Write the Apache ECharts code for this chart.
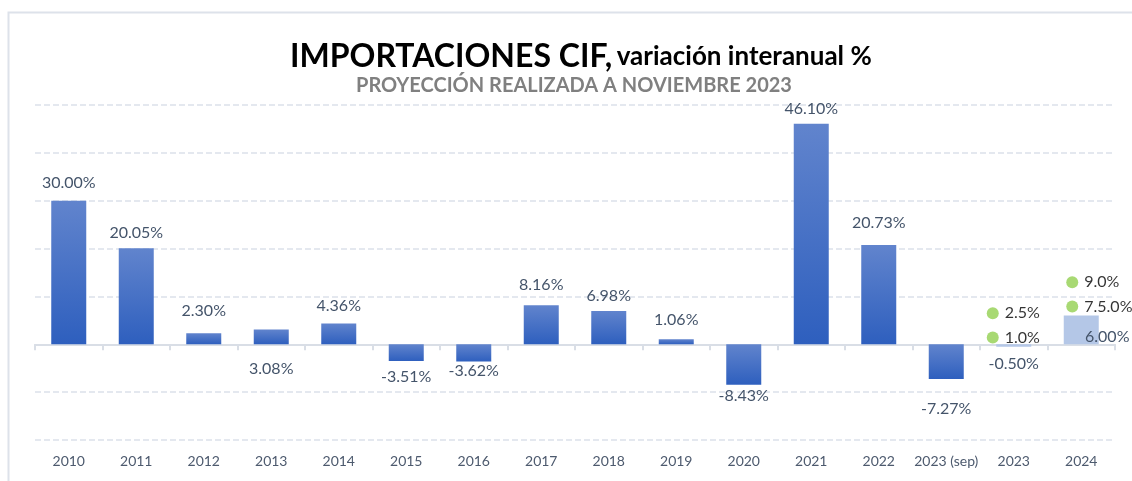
<!DOCTYPE html>
<html>
<head>
<meta charset="utf-8">
<script src="https://cdn.jsdelivr.net/npm/echarts@6/dist/echarts.min.js"></script>
<style>
  html, body { margin: 0; padding: 0; background: #fff; }
  #chart { width: 1132px; height: 481px; }
</style>
</head>
<body>
<div id="chart"></div>
<script>
// años / categorías
const years = ['2010', '2011', '2012', '2013', '2014', '2015', '2016', '2017', '2018',
  '2019', '2020', '2021', '2022', '2023 (sep)', '2023', '2024'];
// variación interanual %
const variacion = [30.00, 20.05, 2.30, 3.08, 4.36, -3.51, -3.62, 8.16, 6.98,
  1.06, -8.43, 46.10, 20.73, -7.27, -0.50, 6.00];
// proyecciones (puntos verdes)
const proyBaja = [null, null, null, null, null, null, null, null, null,
  null, null, null, null, null, 1.0, 7.5];
const proyAlta = [null, null, null, null, null, null, null, null, null,
  null, null, null, null, null, 2.5, 9.0];
const proyBajaTxt = ['1.0%', '7.5.0%'];
const proyAltaTxt = ['2.5%', '9.0%'];

// separación de etiquetas (px) respecto al extremo de la barra
const labelGap = [18, 15, 22, 25, 18, 16, 9, 20, 15, 19, 11, 15, 22, 30, 17, 0];

const chart = echarts.init(document.getElementById('chart'), null, { renderer: 'canvas' });

const FONT = 'Lato';
const darkBlue = new echarts.graphic.LinearGradient(0, 0, 0, 1, [
  { offset: 0, color: '#6184cd' },
  { offset: 1, color: '#2e5fbe' }
]);
const lightBlue = '#b4c7e7';

const barData = variacion.map(function (v, i) {
  const proy = i >= 14;
  const item = {
    value: v,
    itemStyle: { color: proy ? lightBlue : darkBlue },
    label: {
      position: v >= 0 && i !== 3 ? 'top' : 'bottom',
      distance: labelGap[i] - 8
    }
  };
  if (i === 15) {
    item.label = { position: 'inside', offset: [26, 7] };
  }
  return item;
});

function dotData(arr, txt, dy) {
  let k = 0;
  return arr.map(function (v, i) {
    if (v === null) return null;
    const t = txt[k++];
    return {
      value: v,
      symbolOffset: [i === 14 ? -21 : -9, dy],
      label: { formatter: t }
    };
  });
}

const option = {
  animation: false,
  textStyle: { fontFamily: FONT },
  graphic: [{
    type: 'rect',
    left: 6, top: 10,
    shape: { width: 1200, height: 600 },
    style: { fill: 'none', stroke: '#dde2ea', lineWidth: 2 },
    silent: true
  }],
  title: [{
    left: 285, top: 36,
    text: '{b|IMPORTACIONES CIF,} {n|variación interanual %}',
    textStyle: {
      rich: {
        b: { fontFamily: FONT, fontSize: 32, fontWeight: 'bold', color: '#000' },
        n: { fontFamily: FONT, fontSize: 26, color: '#000' }
      }
    }
  }, {
    left: 351, top: 71,
    text: 'PROYECCIÓN REALIZADA A NOVIEMBRE 2023',
    textStyle: { fontFamily: FONT, fontSize: 20, fontWeight: 'bold', color: '#808080' }
  }],
  grid: { left: 35, right: 17, top: 105, bottom: 41 },
  xAxis: [{
    type: 'category',
    data: years,
    axisLine: { onZero: true, lineStyle: { color: '#d9dee6', width: 2 } },
    axisTick: { show: true, interval: 0, length: 6, lineStyle: { color: '#d9dee6', width: 2 } },
    axisLabel: { show: false }
  }, {
    type: 'category',
    data: years,
    position: 'bottom',
    axisLine: { show: false, onZero: false },
    axisTick: { show: false },
    axisLabel: { interval: 0, margin: 14, fontFamily: FONT, fontSize: 14, color: '#4d5a6e' }
  }],
  yAxis: {
    type: 'value',
    min: -20, max: 50, interval: 10,
    axisLabel: { show: false },
    axisLine: { show: false },
    axisTick: { show: false },
    splitLine: { lineStyle: { color: '#dce1ea', type: [6, 3], width: 1.5 } }
  },
  series: [{
    name: 'Variación',
    type: 'bar',
    xAxisIndex: 0,
    barWidth: 35,
    data: barData,
    label: {
      show: true,
      fontFamily: FONT,
      fontSize: 16,
      color: '#44546a',
      formatter: function (p) { return p.value.toFixed(2) + '%'; }
    }
  }, {
    name: 'Proyección alta',
    type: 'scatter',
    xAxisIndex: 0,
    symbol: 'circle',
    symbolSize: 12,
    itemStyle: { color: '#92d050' },
    data: dotData(proyAlta, proyAltaTxt, -19),
    label: { show: true, position: 'right', distance: 6, fontFamily: FONT, fontSize: 16, color: '#000' },
    z: 5
  }, {
    name: 'Proyección baja',
    type: 'scatter',
    xAxisIndex: 0,
    symbol: 'circle',
    symbolSize: 12,
    itemStyle: { color: '#92d050' },
    data: dotData(proyBaja, proyBajaTxt, -2),
    label: { show: true, position: 'right', distance: 6, fontFamily: FONT, fontSize: 16, color: '#000' },
    z: 5
  }]
};

chart.setOption(option);
</script>
</body>
</html>
